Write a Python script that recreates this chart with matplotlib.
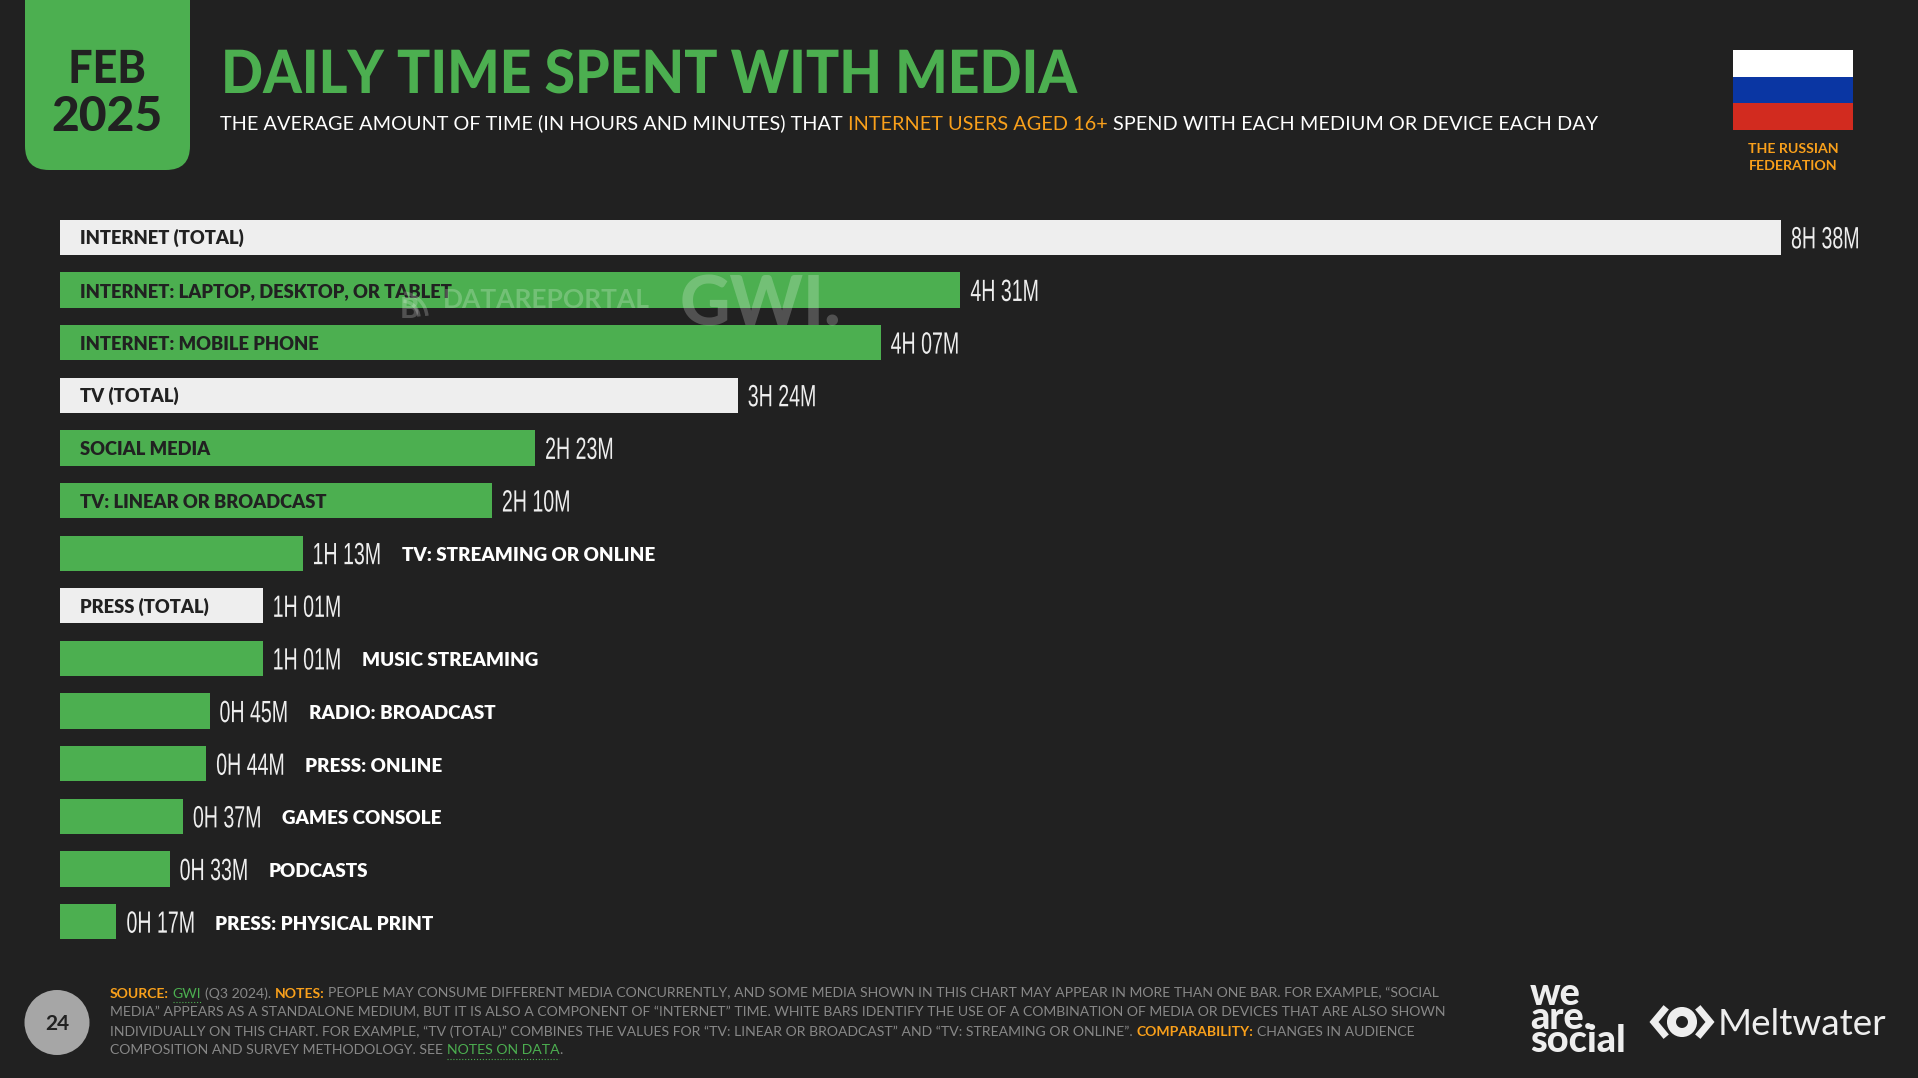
"""Daily time spent with media, Russian Federation, Feb 2025."""

import matplotlib

matplotlib.use("Agg")

import matplotlib.pyplot as plt
from matplotlib.patches import Arc, Circle, FancyBboxPatch, Rectangle
from matplotlib.patheffects import AbstractPathEffect
from matplotlib.transforms import Affine2D

BG = "#212121"
GREEN = "#4CAF50"
OFFWHITE = "#EEEEEE"
ORANGE = "#F9A01B"
GREY = "#888888"
INK = "#212121"

FONT = "Lato"
VALUE_FONT = "Liberation Sans"

W, H = 1918, 1078

categories = [
    "INTERNET (TOTAL)",
    "INTERNET: LAPTOP, DESKTOP, OR TABLET",
    "INTERNET: MOBILE PHONE",
    "TV (TOTAL)",
    "SOCIAL MEDIA",
    "TV: LINEAR OR BROADCAST",
    "TV: STREAMING OR ONLINE",
    "PRESS (TOTAL)",
    "MUSIC STREAMING",
    "RADIO: BROADCAST",
    "PRESS: ONLINE",
    "GAMES CONSOLE",
    "PODCASTS",
    "PRESS: PHYSICAL PRINT",
]
minutes = [518, 271, 247, 204, 143, 130, 73, 61, 61, 45, 44, 37, 33, 17]
is_total = [True, False, False, True, False, False, False,
            True, False, False, False, False, False, False]
label_inside = [True, True, True, True, True, True, False,
                True, False, False, False, False, False, False]

subtitle_runs = [
    ("THE AVERAGE AMOUNT OF TIME (IN HOURS AND MINUTES) THAT", "white", "normal"),
    ("INTERNET USERS AGED 16+", ORANGE, "normal"),
    ("SPEND WITH EACH MEDIUM OR DEVICE EACH DAY", "white", "normal"),
]
footer_lines = [
    [
        ("SOURCE:", ORANGE, "bold"),
        ("GWI", GREEN, "normal"),
        ("(Q3 2024).", GREY, "normal"),
        ("NOTES:", ORANGE, "bold"),
        ("PEOPLE MAY CONSUME DIFFERENT MEDIA CONCURRENTLY, AND SOME MEDIA SHOWN IN THIS "
         "CHART MAY APPEAR IN MORE THAN ONE BAR. FOR EXAMPLE, \u201cSOCIAL", GREY, "normal"),
    ],
    [
        ("MEDIA\u201d APPEARS AS A STANDALONE MEDIUM, BUT IT IS ALSO A COMPONENT OF "
         "\u201cINTERNET\u201d TIME. WHITE BARS IDENTIFY THE USE OF A COMBINATION OF MEDIA "
         "OR DEVICES THAT ARE ALSO SHOWN", GREY, "normal"),
    ],
    [
        ("INDIVIDUALLY ON THIS CHART. FOR EXAMPLE, \u201cTV (TOTAL)\u201d COMBINES THE VALUES "
         "FOR \u201cTV: LINEAR OR BROADCAST\u201d AND \u201cTV: STREAMING OR ONLINE\u201d.",
         GREY, "normal"),
        ("COMPARABILITY:", ORANGE, "bold"),
        ("CHANGES IN AUDIENCE", GREY, "normal"),
    ],
    [
        ("COMPOSITION AND SURVEY METHODOLOGY. SEE", GREY, "normal"),
        ("NOTES ON DATA", GREEN, "normal"),
        (".", GREY, "normal"),
    ],
]


class TallText(AbstractPathEffect):
    """Stretches glyphs upward from the baseline, the fonts here run wider than the original."""

    def __init__(self, factor):
        super().__init__()
        self.factor = factor

    def draw_path(self, renderer, gc, tpath, affine, rgbFace=None):
        stretched = Affine2D().scale(1, self.factor) + affine
        renderer.draw_path(gc, tpath, stretched, rgbFace)


def fmt_time(total):
    return f"{total // 60}H {total % 60:02d}M"


def draw_runs(ax, renderer, x, y, runs, size):
    """Draws coloured runs one after another on a shared baseline."""
    for text, color, weight in runs:
        t = ax.text(x, y, text, color=color, fontsize=size, fontweight=weight,
                    family=FONT, va="baseline", ha="left")
        width = t.get_window_extent(renderer).width
        if text in ("GWI", "NOTES ON DATA"):
            ax.plot([x, x + width], [y + 4, y + 4], color=GREEN, lw=0.8, ls=":")
        x += width
        if text != "NOTES ON DATA":
            x += size * 0.36
    return x


fig = plt.figure(figsize=(W / 100, H / 100), dpi=100, facecolor=BG)
renderer = fig.canvas.get_renderer()

# bars: 60 px to 1781 px covers the longest bar, rows sit 52.6 px apart
ax = fig.add_axes([60 / W, 1 - 948 / H, 1721 / W, (948 - 211) / H], zorder=1)
ax.patch.set_alpha(0)
ax.set_xlim(0, 518)
ax.set_ylim(13.5, -0.5)
ax.axis("off")

colors = [OFFWHITE if total else GREEN for total in is_total]
ax.barh(range(len(minutes)), minutes, height=0.67, color=colors)

for i, (name, value, inside) in enumerate(zip(categories, minutes, label_inside)):
    ax.annotate(fmt_time(value), (value, i), xytext=(10, -11), textcoords="offset pixels",
                color=OFFWHITE, fontsize=14.1, family=VALUE_FONT, va="baseline", ha="left",
                annotation_clip=False, path_effects=[TallText(1.57)])
    if inside:
        ax.annotate(name, (0, i), xytext=(20, -7), textcoords="offset pixels",
                    color=INK, fontsize=13.2, fontweight="heavy", family=FONT,
                    va="baseline", ha="left")
    else:
        ax.annotate(name, (value, i), xytext=(99, -8), textcoords="offset pixels",
                    color="white", fontsize=13.6, fontweight="heavy", family=FONT,
                    va="baseline", ha="left")

# everything else is placed in picture pixels
page = fig.add_axes([0, 0, 1, 1], zorder=2)
page.patch.set_alpha(0)
page.set_xlim(0, W)
page.set_ylim(H, 0)
page.axis("off")

# date tab
page.add_patch(FancyBboxPatch((25, -60), 165, 230, boxstyle="round,pad=0,rounding_size=24",
                              facecolor=GREEN, edgecolor="none", zorder=0))
page.text(107, 83, "FEB", color=INK, fontsize=31, fontweight="black", family=FONT,
          ha="center", va="baseline", path_effects=[TallText(1.06)])
page.text(107, 131, "2025", color=INK, fontsize=34.5, fontweight="black", family=FONT,
          ha="center", va="baseline")

# title block
page.text(221, 93, "DAILY TIME SPENT WITH MEDIA", color=GREEN, fontsize=39.8,
          fontweight="black", family=FONT, ha="left", va="baseline",
          path_effects=[TallText(1.08)])
draw_runs(page, renderer, 220, 129.5, subtitle_runs, 14.35)

# flag
flag_colors = ["#FFFFFF", "#0A36A3", "#D22B1F"]
for k, c in enumerate(flag_colors):
    page.add_patch(Rectangle((1733, 50 + k * 26.5), 120, 26.5, facecolor=c, edgecolor="none"))
page.text(1793, 153, "THE RUSSIAN", color=ORANGE, fontsize=10.2, fontweight="bold",
          family=FONT, ha="center", va="baseline")
page.text(1793, 170, "FEDERATION", color=ORANGE, fontsize=10.2, fontweight="bold",
          family=FONT, ha="center", va="baseline")

# watermark on top of the bars
page.text(400, 318, "B", color="white", alpha=0.22, fontsize=21, fontweight="black",
          family=FONT, ha="left", va="baseline")
for diameter in (34, 50):
    page.add_patch(Arc((402, 318), diameter, diameter, theta1=-85, theta2=-5, color="white",
                       alpha=0.22, lw=2.5))
page.text(443, 308, "DATAREPORTAL", color="white", alpha=0.22, fontsize=19, fontweight="bold",
          family=FONT, ha="left", va="baseline")
page.text(680, 325, "GWI.", color="white", alpha=0.22, fontsize=50, fontweight="black",
          family=FONT, ha="left", va="baseline")

# footer
page.add_patch(Circle((57, 1022.5), 32.5, facecolor="#A6A6A6", edgecolor="none"))
page.text(57, 1024, "24", color=INK, fontsize=15, fontweight="bold", family=FONT,
          ha="center", va="center")
for y, runs in zip([997.5, 1016.5, 1035.5, 1054.5], footer_lines):
    draw_runs(page, renderer, 110, y, runs, 10.05)

# logos
page.text(1530, 1052, "we\nare.\nsocial", color=OFFWHITE, fontsize=27.3, fontweight="black",
          family=FONT, ha="left", va="baseline", linespacing=0.62)
page.plot([1664, 1654, 1664], [1010, 1022, 1034], color=OFFWHITE, lw=5, solid_joinstyle="miter")
page.plot([1700, 1710, 1700], [1010, 1022, 1034], color=OFFWHITE, lw=5, solid_joinstyle="miter")
page.add_patch(Circle((1682, 1022), 10.5, facecolor="none", edgecolor=OFFWHITE, lw=6.5))
page.text(1718, 1035, "Meltwater", color=OFFWHITE, fontsize=26.5, family=FONT,
          ha="left", va="baseline")

fig.savefig("out.png", dpi=100, facecolor=BG)
plt.close(fig)
